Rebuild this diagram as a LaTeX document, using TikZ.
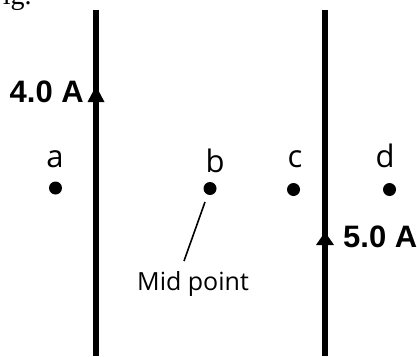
\documentclass[tikz,border=0pt]{standalone}
\usepackage{fontspec}
\setmainfont{Open Sans}
\newfontfamily\arialbold{Liberation Sans}
\newfontfamily\timesfont{Liberation Serif}
\begin{document}
\begin{tikzpicture}[x=1pt,y=-1pt,
  wire/.style={line width=6pt},
  headtip/.style={fill=black},
  pt/.style={circle,fill=black,inner sep=0pt,minimum size=13pt},
  ptlabel/.style={anchor=base,inner sep=0pt,font=\fontsize{31}{33}\selectfont},
  current/.style={inner sep=0pt,font=\arialbold\bfseries\fontsize{31}{33}\selectfont},
  note/.style={inner sep=0pt,font=\fontsize{25}{27}\selectfont}]
\useasboundingbox (0,0) rectangle (417,356);
% cut-off caption
\node[anchor=base west,inner sep=0pt,font=\timesfont\fontsize{28}{30}\selectfont] (fig) at (-13,5) {Fig.};
% wires
\coordinate (w1t) at (96,10);
\coordinate (w1b) at (96,356);
\coordinate (w2t) at (325,10);
\coordinate (w2b) at (325,356);
\draw[wire] (w1t) -- (w1b);
\draw[wire] (w2t) -- (w2b);
% arrowheads
\fill[headtip] (96,86) -- (104.5,102) -- (87.5,102) -- cycle;
\fill[headtip] (325,232) -- (334,245) -- (316,245) -- cycle;
% currents
\node[current,anchor=base east] (i1) at (84,102) {4.0 A};
\node[current,anchor=base west] (i2) at (343,247) {5.0 A};
% points
\node[pt] (a) at (55.5,188) {};
\node[pt] (b) at (210,188.5) {};
\node[pt] (c) at (293.5,189.5) {};
\node[pt] (d) at (389.5,189.5) {};
\node[ptlabel] (la) at (55,167) {a};
\node[ptlabel] (lb) at (215,172) {b};
\node[ptlabel] (lc) at (295,167) {c};
\node[ptlabel] (ld) at (385,167) {d};
% mid point note
\node[note,anchor=base west] (mid) at (137,290) {Mid point};
\coordinate (mp1) at (205,202);
\coordinate (mp2) at (184,261);
\draw[line width=1.6pt] (mp1) -- (mp2);
\end{tikzpicture}
\end{document}
